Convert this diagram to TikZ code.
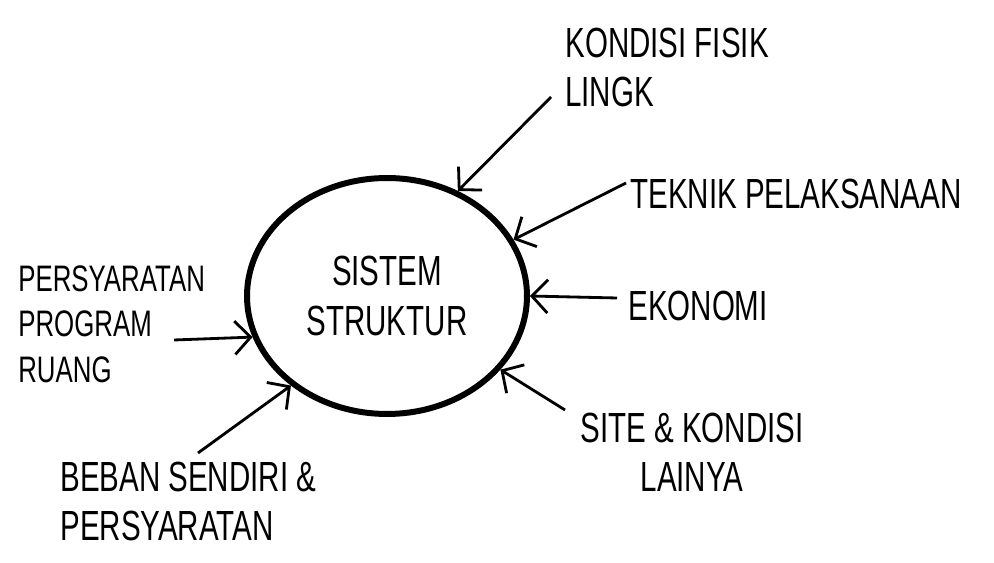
\documentclass[tikz,border=0pt]{standalone}
\usepackage{fontspec}
\usetikzlibrary{shapes.geometric,arrows.meta,positioning}
\newfontfamily\handfont[FakeStretch=0.7]{Liberation Sans}

\begin{document}
\begin{tikzpicture}[
  x=0.02cm, y=-0.02cm,
  core/.style = {ellipse, draw=black, line width=3.4pt,
                 minimum width=5.6cm, minimum height=4.72cm,
                 font=\handfont\fontsize{24}{28}\selectfont, align=center},
  arr/.style  = {-{Straight Barb[length=9pt,width=19pt,line width=1.6pt]},
                 line width=1.6pt, black},
  lbl/.style  = {font=\handfont\fontsize{24}{28}\selectfont, inner sep=0pt},
]
\useasboundingbox (0,0) rectangle (994,563);

\node[core] (sistem) at (387,296) {SISTEM\\STRUKTUR};

\node[lbl, align=left, anchor=north west] (fisik)   at (565,28)  {KONDISI FISIK\\LINGK};
\node[lbl, anchor=west]                   (teknik)  at (630,194) {TEKNIK PELAKSANAAN};
\node[lbl, anchor=west]                   (ekonomi) at (628,306) {EKONOMI};
\node[lbl, align=center]                  (site)    at (692,452) {SITE \& KONDISI\\LAINYA};
\node[lbl, align=left, anchor=west, font=\handfont\fontsize{21}{26}\selectfont]
                                          (ruang)   at (18,324)  {PERSYARATAN\\PROGRAM\\RUANG};
\node[lbl, align=left, anchor=north west] (beban)   at (60,462)  {BEBAN SENDIRI \&\\PERSYARATAN};

\coordinate (fisikEnd)   at (551,97);
\coordinate (teknikEnd)  at (626,183);
\coordinate (ekonomiEnd) at (617,298);
\coordinate (siteEnd)    at (565,410);
\coordinate (bebanEnd)   at (198,453);
\coordinate (ruangEnd)   at (174,340);

\draw[arr] (fisikEnd)   -- (sistem.56);
\draw[arr] (teknikEnd)  -- (sistem.24);
\draw[arr] (ekonomiEnd) -- (sistem.0);
\draw[arr] (siteEnd)    -- (sistem.-33);
\draw[arr] (bebanEnd)   -- (sistem.223);
\draw[arr] (ruangEnd)   -- (sistem.197);
\end{tikzpicture}
\end{document}
